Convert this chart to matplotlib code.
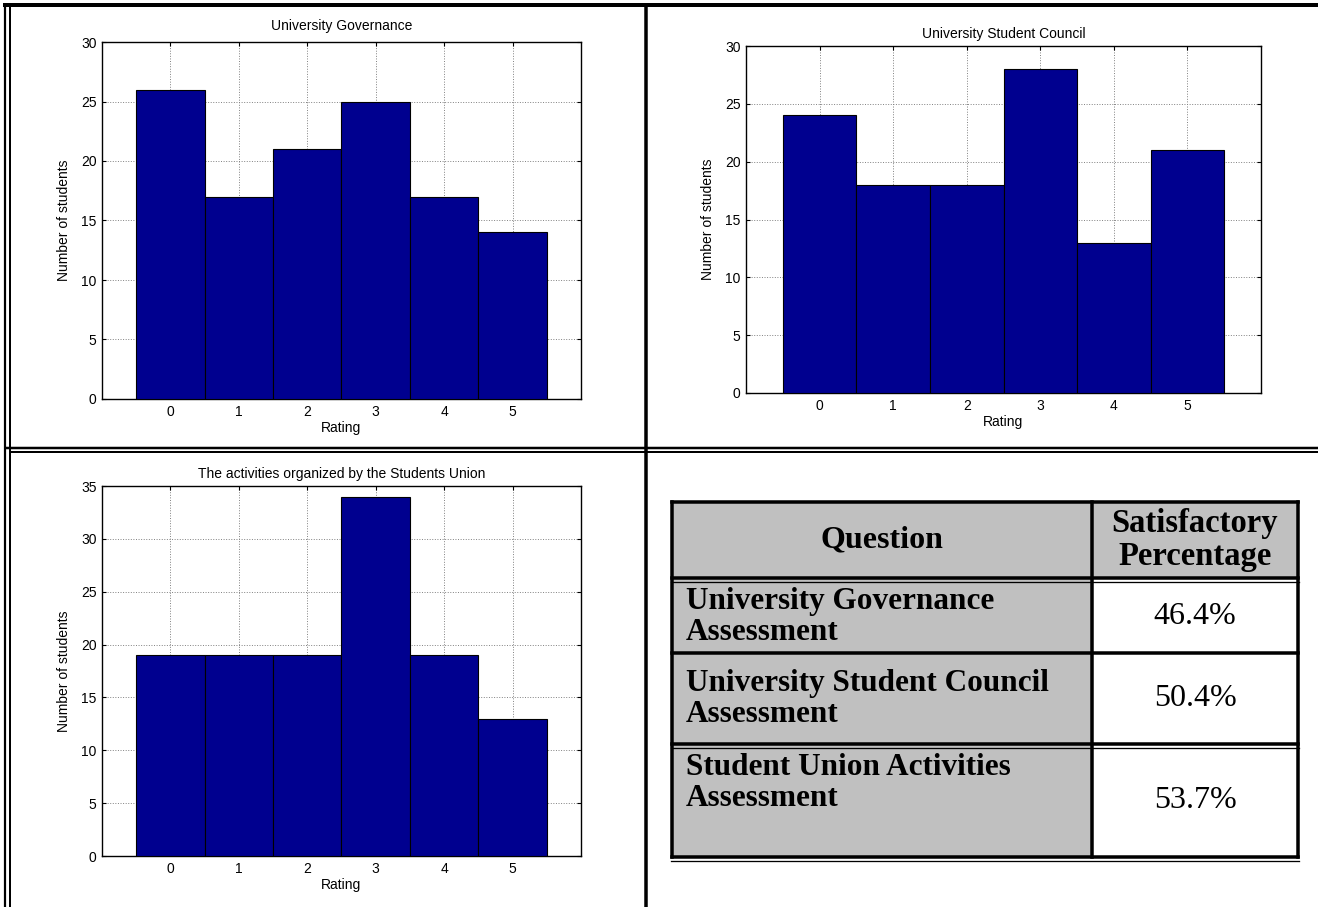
import numpy as np
import matplotlib
matplotlib.use("Agg")
import matplotlib.pyplot as plt
from matplotlib.patches import Rectangle

W, H = 1318, 907

ratings = [0, 1, 2, 3, 4, 5]
governance = [26, 17, 21, 25, 17, 14]
council = [24, 18, 18, 28, 13, 21]
activities = [19, 19, 19, 34, 19, 13]

titles = ["University Governance",
          "University Student Council",
          "The activities organized by the Students Union"]

questions = ["University Governance\nAssessment",
             "University Student Council\nAssessment",
             "Student Union Activities\nAssessment"]
percentages = [46.4, 50.4, 53.7]

bar_color = "#00008F"

plt.rcParams['font.family'] = ['Liberation Sans', 'DejaVu Sans']


def box(l, t, r, b):
    # pixel box -> figure fraction
    return [l / W, 1 - b / H, (r - l) / W, (b - t) / H]


fig = plt.figure(figsize=(W / 100, H / 100), dpi=100)

# background axes in pixel coords for the frame and the table
bg = fig.add_axes([0, 0, 1, 1], zorder=0)
bg.set_xlim(0, W)
bg.set_ylim(H, 0)
bg.axis("off")

px = 0.72  # points per pixel at 100 dpi

# page frame lines
bg.plot([3, W], [4.5, 4.5], color="black", lw=4 * px, solid_capstyle="butt")
bg.plot([5, 5], [3, H], color="black", lw=2.2 * px, solid_capstyle="butt")
bg.plot([9.5, 9.5], [6, H], color="black", lw=2 * px, solid_capstyle="butt")
bg.plot([5, W], [447.5, 447.5], color="black", lw=2.5 * px, solid_capstyle="butt")
bg.plot([9.5, W], [452, 452], color="black", lw=2 * px, solid_capstyle="butt")
bg.plot([646, 646], [3, H], color="black", lw=3.5 * px, solid_capstyle="butt")

fs = 10


def histo(rect, counts, title, ymax, title_pad):
    ax = fig.add_axes(box(*rect), zorder=2)
    ax.bar(ratings, counts, width=1, color=bar_color, edgecolor="black",
           linewidth=0.8, zorder=3)
    ax.set_xlim(-1, 6)
    ax.set_ylim(0, ymax)
    ax.set_xticks(ratings)
    ax.set_yticks(np.arange(0, ymax + 1, 5))
    ax.grid(True, linestyle=":", color="#808080", linewidth=0.7)
    ax.set_axisbelow(True)
    ax.tick_params(direction="in", length=3, top=True, right=True,
                   labelsize=fs, pad=4)
    for s in ax.spines.values():
        s.set_linewidth(1.0)
    ax.set_title(title, fontsize=fs, pad=title_pad)
    ax.set_xlabel("Rating", fontsize=fs, labelpad=2)
    ax.set_ylabel("Number of students", fontsize=fs, labelpad=7)
    return ax


histo((102, 42, 581, 399), governance, titles[0], 30, 8.5)
histo((746, 46, 1261, 393), council, titles[1], 30, 5.5)
histo((102, 486, 581, 856), activities, titles[2], 35, 5.5)

# summary table
tl, tr, tt, tb = 672, 1298, 502, 857
col = 1092
row_lines = [tt, 578, 653, 744, tb]

bg.add_patch(Rectangle((tl, tt), col - tl, tb - tt, facecolor="#C0C0C0",
                       edgecolor="none"))
bg.add_patch(Rectangle((col, tt), tr - col, row_lines[1] - tt,
                       facecolor="#C0C0C0", edgecolor="none"))

for i, y in enumerate(row_lines):
    bg.plot([tl, tr], [y, y], color="black", lw=3.5 * px,
            solid_capstyle="projecting")
    if i in (1, 3, 4):
        bg.plot([tl - 1, tr + 1], [y + 4, y + 4], color="black", lw=1.3 * px)
for x in (tl, col, tr):
    bg.plot([x, x], [tt, tb], color="black", lw=3.5 * px,
            solid_capstyle="projecting")

serif = ["Liberation Serif", "DejaVu Serif"]
bg.text((tl + col) / 2, 540, "Question", ha="center", va="center",
        fontsize=23, fontweight="bold", family=serif)
bg.text((col + tr) / 2, 540, "Satisfactory\nPercentage", ha="center",
        va="center", fontsize=23.5, fontweight="bold", family=serif,
        linespacing=1.08)

q_y = [617, 699, 783]
p_y = [616, 699, 800]
for q, p, qy, py in zip(questions, percentages, q_y, p_y):
    bg.text(686, qy, q, ha="left", va="center", fontsize=22.5,
            fontweight="bold", family=serif, linespacing=1.12)
    bg.text((col + tr) / 2, py, f"{p:.1f}%", ha="center", va="center",
            fontsize=23, family=serif)

fig.savefig("out.png", dpi=100)
